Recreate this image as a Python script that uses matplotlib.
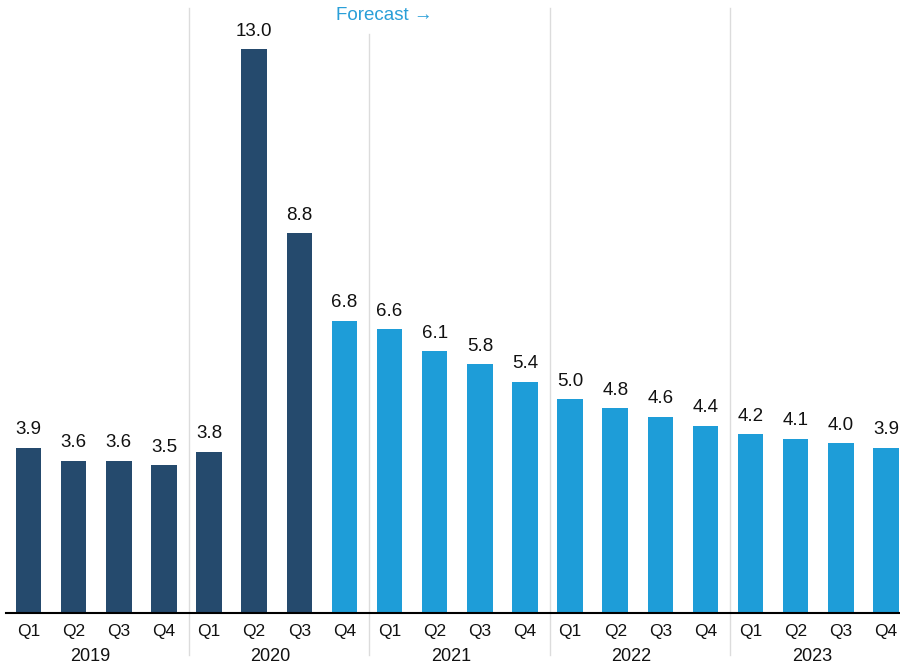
import matplotlib
matplotlib.use("Agg")
import matplotlib.pyplot as plt
import matplotlib.transforms as mtransforms

plt.rcParams["font.family"] = ["Liberation Sans", "DejaVu Sans"]

# quarterly values, 2019 Q1 .. 2023 Q4
years = ["2019", "2020", "2021", "2022", "2023"]
quarters = ["Q1", "Q2", "Q3", "Q4"]
values = [3.9, 3.6, 3.6, 3.5,
          3.8, 13.0, 8.8, 6.8,
          6.6, 6.1, 5.8, 5.4,
          5.0, 4.8, 4.6, 4.4,
          4.2, 4.1, 4.0, 3.9]
first_forecast = 7  # 2020 Q4 onward is forecast

NAVY = "#254a6d"
BLUE = "#1e9dd8"
GRID = "#dcdcdc"

fig = plt.figure(figsize=(9, 6.66), dpi=100)
ax = fig.add_axes([0, 0.0791, 1, 0.9209])

xs = list(range(len(values)))
colors = [NAVY if i < first_forecast else BLUE for i in xs]
ax.bar(xs, values, width=0.565, color=colors, zorder=2)

for x, v in zip(xs, values):
    ax.annotate(f"{v:.1f}", (x, v), xytext=(0, 9.7), textcoords="offset points",
                ha="center", va="baseline", fontsize=13.5, color="#111111")

ax.set_xlim(-0.632, 19.31)
ax.set_ylim(0.11, 14.13)
ax.axis("off")

# baseline
ax.plot([-0.5, 19.31], [0.11, 0.11], color="black", lw=1.5, clip_on=False, zorder=3)

# year separators and quarter/year labels
trans = mtransforms.blended_transform_factory(ax.transData, ax.transAxes)
for g, year in enumerate(years):
    if g > 0:
        sx = 4 * g - 0.45
        top = 0.9446 if 4 * g == first_forecast + 1 else 0.987
        ax.plot([sx, sx], [-0.068, top], color=GRID, lw=1.0, transform=trans,
                clip_on=False, zorder=1)
    for q, label in enumerate(quarters):
        ax.text(4 * g + q, -0.0365, label, transform=trans, ha="center",
                va="baseline", fontsize=12.5, color="#111111")
    ax.text(4 * g + 1.36, -0.0785, year, transform=trans, ha="center",
            va="baseline", fontsize=13, color="#111111")

ax.text(7.89, 0.9674, "Forecast \u2192", transform=trans, ha="center",
        va="baseline", fontsize=13.5, color="#2a9fd8")

fig.savefig("out.png", dpi=100)
